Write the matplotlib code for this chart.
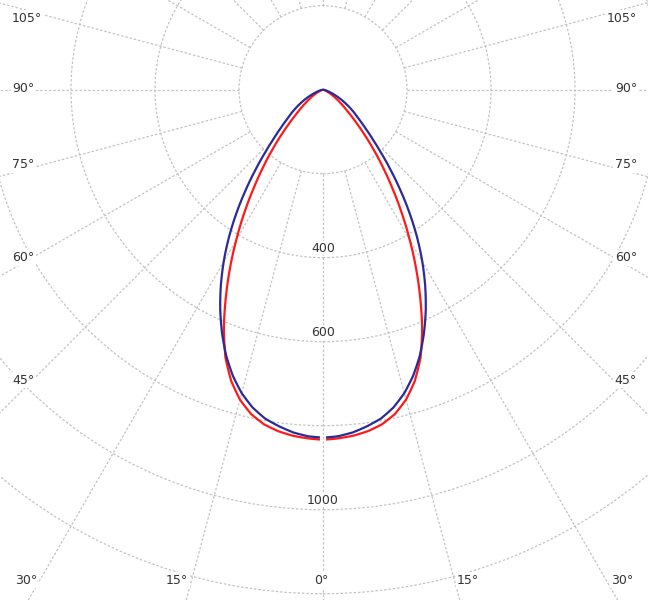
import numpy as np
import matplotlib
matplotlib.use("Agg")
import matplotlib.pyplot as plt
from matplotlib.transforms import offset_copy

# ---- data (luminous intensity, cd) ----
angles = [0, 2.5, 5, 7.5, 10, 12.5, 15, 17.5, 20, 22.5, 25, 27.5, 30, 32.5, 35,
          37.5, 40, 42.5, 45, 47.5, 50, 52.5, 55, 57.5, 60, 62.5, 65, 67.5, 70,
          72.5, 75, 77.5, 80, 82.5, 85, 87.5, 90]
blue_curve = [828, 826, 819, 808, 795, 775, 748, 714, 674, 628, 579, 527, 473,
              417, 360, 304, 252, 206, 168, 139, 116, 99, 84, 70, 57, 45, 34,
              25, 18, 13, 9, 6, 3.5, 2.2, 1.2, 0.5, 0]
red_curve = [833, 831, 827, 820, 809, 791, 764, 727, 679, 617, 548, 480, 413,
             350, 290, 237, 190, 149, 114, 88, 69, 54, 42, 32, 24, 18, 13, 9,
             6, 4, 2.6, 1.6, 1, 0.5, 0.25, 0.1, 0]
ring_values = [200, 400, 600, 800, 1000, 1200]
ring_labels = ["400", "600", "1000"]
spoke_angles = list(range(0, 360, 15))

# ---- layout ----
W, H = 648, 600
cx, cy_top = 323, 89.7
px_per_unit = 0.42
rmax = 1500
R = rmax * px_per_unit
fig = plt.figure(figsize=(W / 100, H / 100), dpi=100)
ax = fig.add_axes([(cx - R) / W, (H - cy_top - R) / H, 2 * R / W, 2 * R / H],
                  projection="polar")
ax.set_theta_zero_location("S")
ax.set_ylim(0, rmax)
ax.set_xticks([])
ax.set_yticks(ring_values)
ax.set_yticklabels([])
ax.xaxis.grid(False)
grid_color = "#c4c4c4"
grid_ls = (0, (2.0, 1.5))
ax.yaxis.grid(True, color=grid_color, linestyle=grid_ls, linewidth=0.9)
ax.spines["polar"].set_visible(False)
ax.tick_params(length=0)

for a in spoke_angles:
    t = np.deg2rad(a)
    ax.plot([t, t], [ring_values[0], rmax], color=grid_color,
            linestyle=grid_ls, linewidth=0.9, zorder=1)

# ring labels
trans = offset_copy(ax.transData, fig=fig, x=0, y=3, units="dots")
for s in ring_labels:
    ax.text(0, float(s), s, transform=trans, ha="center", va="bottom",
            fontsize=9, color="#333333", zorder=2,
            bbox=dict(facecolor="white", edgecolor="none", pad=0.5))

# curves (two halves, small gap at nadir)
ang = np.array(angles, dtype=float)
th = np.deg2rad(np.maximum(ang, 0.5))
for vals, col, z in [(red_curve, "#ff1a1a", 3), (blue_curve, "#2b2b96", 4)]:
    v = np.array(vals, dtype=float)
    for sgn in (1, -1):
        ln, = ax.plot(sgn * th, v, color=col, lw=1.6, zorder=z,
                      solid_capstyle="butt", solid_joinstyle="round")
        ln.get_path()._interpolation_steps = 30

# angle labels
def ftext(x, y, s, ha):
    fig.text(x / W, 1 - y / H, s, ha=ha, va="center", fontsize=9,
             color="#333333", zorder=5,
             bbox=dict(facecolor="white", edgecolor="none", pad=1))

side = [("105°", 18), ("90°", 88), ("75°", 165), ("60°", 258), ("45°", 380)]
for s, y in side:
    ftext(12, y, s, "left")
    ftext(637, y, s, "right")
bottom = [("30°", 26), ("15°", 177), ("0°", 321), ("15°", 468), ("30°", 622)]
for s, x in bottom:
    ftext(x, 580, s, "center")

fig.savefig("out.png", dpi=100)
